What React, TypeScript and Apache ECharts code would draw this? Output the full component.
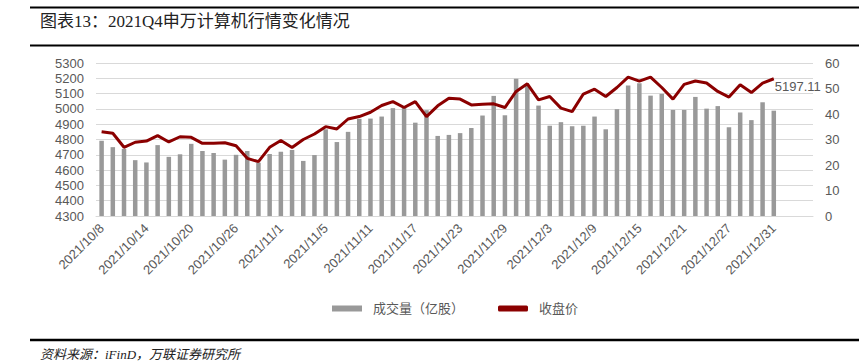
import React, { useEffect, useRef } from "react";
import * as echarts from "echarts";

const dates = [
  "2021/10/8", "2021/10/11", "2021/10/12", "2021/10/13", "2021/10/14", "2021/10/15",
  "2021/10/18", "2021/10/19", "2021/10/20", "2021/10/21", "2021/10/22",
  "2021/10/25", "2021/10/26", "2021/10/27", "2021/10/28", "2021/10/29",
  "2021/11/1", "2021/11/2", "2021/11/3", "2021/11/4", "2021/11/5",
  "2021/11/8", "2021/11/9", "2021/11/10", "2021/11/11", "2021/11/12",
  "2021/11/15", "2021/11/16", "2021/11/17", "2021/11/18", "2021/11/19",
  "2021/11/22", "2021/11/23", "2021/11/24", "2021/11/25", "2021/11/26",
  "2021/11/29", "2021/11/30", "2021/12/1", "2021/12/2", "2021/12/3",
  "2021/12/6", "2021/12/7", "2021/12/8", "2021/12/9", "2021/12/10",
  "2021/12/13", "2021/12/14", "2021/12/15", "2021/12/16", "2021/12/17",
  "2021/12/20", "2021/12/21", "2021/12/22", "2021/12/23", "2021/12/24",
  "2021/12/27", "2021/12/28", "2021/12/29", "2021/12/30", "2021/12/31",
];
// empty trailing categories present in the original chart's axis
const padding = ["", "", ""];

const volume = [
  29.5, 27.0, 26.3, 21.9, 21.0, 27.8, 23.2, 24.2, 28.3, 25.5,
  24.7, 22.1, 24.0, 25.5, 20.9, 24.3, 25.2, 25.9, 21.6, 23.9,
  34.0, 29.0, 33.0, 38.1, 38.2, 39.0, 42.3, 42.5, 36.6, 41.5,
  31.4, 31.8, 32.5, 34.5, 39.4, 47.1, 39.5, 53.8, 51.5, 43.3,
  35.4, 36.8, 35.2, 35.4, 39.0, 34.0, 41.9, 51.2, 52.1, 47.2,
  47.9, 41.6, 41.6, 46.7, 42.1, 43.1, 34.8, 40.6, 37.6, 44.6,
  41.3,
];

const close = [
  4851, 4841, 4749, 4782, 4790, 4825, 4784, 4818, 4814, 4775,
  4775, 4779, 4759, 4677, 4655, 4749, 4793, 4748, 4800, 4836,
  4884, 4869, 4934, 4950, 4978, 5022, 5048, 5009, 5048, 4950,
  5020, 5070, 5064, 5026, 5031, 5033, 5009, 5114, 5164, 5059,
  5081, 5005, 4982, 5097, 5129, 5081, 5140, 5208, 5182, 5208,
  5140, 5064, 5160, 5182, 5169, 5114, 5077, 5158, 5107, 5169,
  5197.11,
];

const title = "图表13：2021Q4申万计算机行情变化情况";
const source = "资料来源：iFinD，万联证券研究所";
const seriesNames = ["成交量（亿股）", "收盘价"];

const SANS = "'Liberation Sans', Arial, 'Noto Sans CJK SC', sans-serif";
const SERIF = "'Liberation Serif', 'Times New Roman', 'Noto Sans CJK SC', serif";
const GRAY = "#595959";

export default function App() {
  const ref = useRef<HTMLDivElement>(null);

  useEffect(() => {
    if (!ref.current) return;
    const chart = echarts.init(ref.current, null, { renderer: "svg" });
    const categories = [...dates, ...padding];
    chart.setOption({
      animation: false,
      backgroundColor: "#ffffff",
      grid: { left: 96, right: 46, top: 63, bottom: 148 },
      legend: {
        left: 327,
        top: 297,
        itemWidth: 30,
        itemHeight: 6,
        itemGap: 34,
        textStyle: { color: GRAY, fontSize: 13, fontFamily: SANS, padding: [0, 0, 0, 6] },
        data: [
          { name: seriesNames[0], icon: "rect" },
          { name: seriesNames[1], icon: "roundRect" },
        ],
      },
      xAxis: {
        type: "category",
        data: categories,
        boundaryGap: true,
        axisLine: { lineStyle: { color: "#d9d9d9", width: 1 } },
        axisTick: { show: false },
        axisLabel: {
          interval: 3,
          rotate: 45,
          color: GRAY,
          fontSize: 13,
          fontFamily: SANS,
          margin: 10,
        },
      },
      yAxis: [
        {
          type: "value",
          min: 4300,
          max: 5300,
          interval: 100,
          position: "left",
          axisLine: { show: false },
          axisTick: { show: false },
          axisLabel: {
            color: GRAY,
            fontSize: 13,
            fontFamily: SANS,
            margin: 12,
            formatter: (v: number) => String(v),
          },
          splitLine: { lineStyle: { color: "#d9d9d9", width: 1 } },
        },
        {
          type: "value",
          min: 0,
          max: 60,
          interval: 10,
          position: "right",
          axisLine: { show: false },
          axisTick: { show: false },
          axisLabel: {
            color: GRAY,
            fontSize: 13,
            fontFamily: SANS,
            margin: 12,
            formatter: (v: number) => String(v),
          },
          splitLine: { show: false },
        },
      ],
      series: [
        {
          name: seriesNames[0],
          type: "bar",
          yAxisIndex: 1,
          data: volume,
          barWidth: 4.5,
          itemStyle: { color: "#999999" },
        },
        {
          name: seriesNames[1],
          type: "line",
          yAxisIndex: 0,
          data: close,
          symbol: "none",
          lineStyle: { color: "#8b0000", width: 3 },
          itemStyle: { color: "#8b0000" },
          endLabel: {
            show: true,
            formatter: (p: any) => String(p.value),
            color: GRAY,
            fontSize: 13,
            fontFamily: SANS,
            offset: [-7, 8],
          },
        },
      ],
      graphic: [
        { type: "line", shape: { x1: 30, y1: 7.5, x2: 859, y2: 7.5 }, style: { stroke: "#000", lineWidth: 2 } },
        { type: "line", shape: { x1: 30, y1: 45.5, x2: 859, y2: 45.5 }, style: { stroke: "#000", lineWidth: 2 } },
        {
          type: "text",
          left: 40,
          top: 13,
          style: { text: title, fill: "#222", font: `17px ${SERIF}` },
        },
        { type: "line", shape: { x1: 30, y1: 340, x2: 859, y2: 340 }, style: { stroke: "#000", lineWidth: 2.5 } },
        {
          type: "text",
          left: 40,
          top: 348,
          style: { text: source, fill: "#222", font: `italic 13px ${SERIF}` },
        },
      ],
    });
    return () => chart.dispose();
  }, []);

  return (
    <div
      ref={ref}
      style={{ position: "fixed", left: 0, top: 0, width: 859, height: 364, background: "#fff" }}
    />
  );
}
